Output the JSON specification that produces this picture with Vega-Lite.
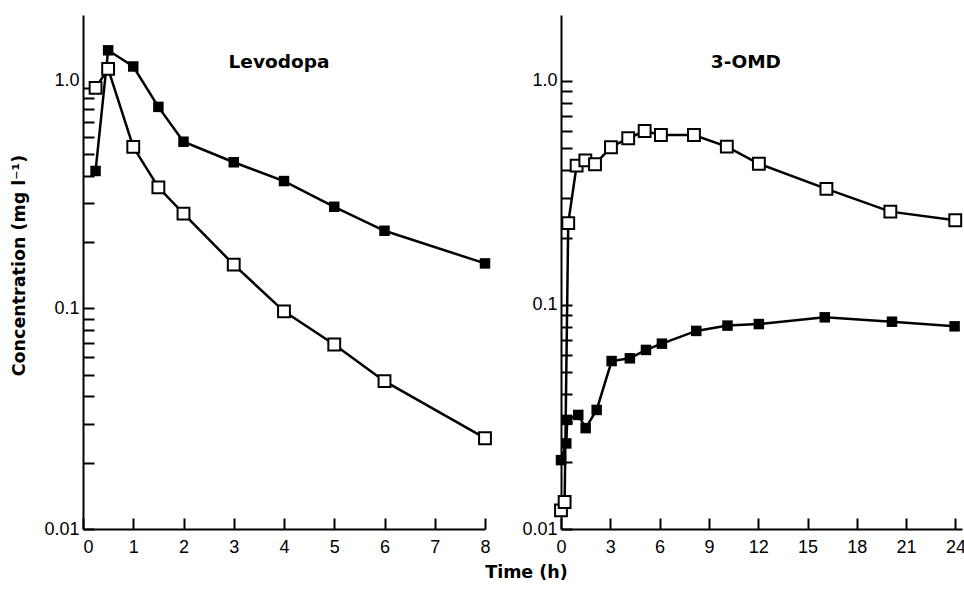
{
  "$schema": "https://vega.github.io/schema/vega-lite/v6.json",
  "background": "white",
  "padding": {"left": 10, "top": 15, "right": 0, "bottom": 0},
  "spacing": 76,
  "bounds": "flush",
  "config": {
    "view": {"stroke": null},
    "axis": {
      "grid": false,
      "domainColor": "black",
      "domainWidth": 2,
      "tickColor": "black",
      "tickWidth": 2,
      "labelColor": "black",
      "labelFont": "Liberation Sans",
      "labelFontSize": 18,
      "labelOverlap": false,
      "labelBound": false,
      "titleColor": "black"
    }
  },
  "datasets": {
    "levo": [
      {"t": 0.25, "c": 0.42, "series": "filled"},
      {"t": 0.5, "c": 1.48, "series": "filled"},
      {"t": 1, "c": 1.25, "series": "filled"},
      {"t": 1.5, "c": 0.82, "series": "filled"},
      {"t": 2, "c": 0.57, "series": "filled"},
      {"t": 3, "c": 0.46, "series": "filled"},
      {"t": 4, "c": 0.378, "series": "filled"},
      {"t": 5, "c": 0.289, "series": "filled"},
      {"t": 6, "c": 0.225, "series": "filled"},
      {"t": 8, "c": 0.16, "series": "filled"},
      {"t": 0.25, "c": 1.0, "series": "open"},
      {"t": 0.5, "c": 1.22, "series": "open"},
      {"t": 1, "c": 0.54, "series": "open"},
      {"t": 1.5, "c": 0.354, "series": "open"},
      {"t": 2, "c": 0.269, "series": "open"},
      {"t": 3, "c": 0.158, "series": "open"},
      {"t": 4, "c": 0.097, "series": "open"},
      {"t": 5, "c": 0.0686, "series": "open"},
      {"t": 6, "c": 0.0468, "series": "open"},
      {"t": 8, "c": 0.0258, "series": "open"}
    ],
    "omd": [
      {"t": 0, "c": 0.0203, "series": "filled"},
      {"t": 0.32, "c": 0.0241, "series": "filled"},
      {"t": 0.38, "c": 0.0307, "series": "filled"},
      {"t": 1.05, "c": 0.0323, "series": "filled"},
      {"t": 1.5, "c": 0.0282, "series": "filled"},
      {"t": 2.17, "c": 0.034, "series": "filled"},
      {"t": 3.08, "c": 0.0562, "series": "filled"},
      {"t": 4.19, "c": 0.0578, "series": "filled"},
      {"t": 5.17, "c": 0.063, "series": "filled"},
      {"t": 6.14, "c": 0.0672, "series": "filled"},
      {"t": 8.23, "c": 0.0766, "series": "filled"},
      {"t": 10.13, "c": 0.0809, "series": "filled"},
      {"t": 12.04, "c": 0.0822, "series": "filled"},
      {"t": 16.05, "c": 0.0881, "series": "filled"},
      {"t": 20.14, "c": 0.0842, "series": "filled"},
      {"t": 23.95, "c": 0.0803, "series": "filled"},
      {"t": 0, "c": 0.0121, "series": "open"},
      {"t": 0.22, "c": 0.0132, "series": "open"},
      {"t": 0.44, "c": 0.232, "series": "open"},
      {"t": 0.95, "c": 0.419, "series": "open"},
      {"t": 1.48, "c": 0.442, "series": "open"},
      {"t": 2.07, "c": 0.425, "series": "open"},
      {"t": 3.04, "c": 0.506, "series": "open"},
      {"t": 4.09, "c": 0.555, "series": "open"},
      {"t": 5.09, "c": 0.598, "series": "open"},
      {"t": 6.08, "c": 0.574, "series": "open"},
      {"t": 8.09, "c": 0.574, "series": "open"},
      {"t": 10.09, "c": 0.509, "series": "open"},
      {"t": 12.04, "c": 0.427, "series": "open"},
      {"t": 16.15, "c": 0.33, "series": "open"},
      {"t": 20.04, "c": 0.261, "series": "open"},
      {"t": 23.99, "c": 0.239, "series": "open"}
    ]
  },
  "hconcat": [
    {
      "width": 402,
      "height": 514,
      "layer": [
        {
          "data": {"name": "levo"},
          "mark": {"type": "line", "color": "black", "strokeWidth": 2.5},
          "encoding": {
            "x": {
              "field": "t", "type": "quantitative",
              "scale": {"domain": [0, 8], "nice": false, "zero": false},
              "axis": {
                "values": [0, 1, 2, 3, 4, 5, 6, 7, 8],
                "format": "d",
                "tickSize": -11,
                "labelPadding": 20,
                "labelFlush": false,
                "labelOffset": {"condition": {"test": "datum.value == 0", "value": 5}, "value": 0},
                "title": "Time (h)",
                "titleFont": "DejaVu Sans",
                "titleFontWeight": "bold",
                "titleFontSize": 17.5,
                "titleX": 443,
                "titleY": 48,
                "titleAlign": "center",
                "titleBaseline": "alphabetic"
              }
            },
            "y": {
              "field": "c", "type": "quantitative",
              "scale": {"type": "log", "domain": [0.01, 2.14], "nice": false},
              "axis": {
                "values": [0.01, 0.02, 0.03, 0.04, 0.05, 0.06, 0.07, 0.08, 0.09, 0.1, 0.2, 0.3, 0.4, 0.5, 0.6, 0.7, 0.8, 0.9, 1],
                "labelExpr": "datum.value == 0.01 ? '0.01' : datum.value == 0.1 ? '0.1' : datum.value == 1 ? '1.0' : ''",
                "tickSize": -11,
                "labelPadding": 15,
                "labelOffset": {"condition": {"test": "datum.value == 1", "value": -7}, "value": 0},
                "title": "Concentration (mg l⁻¹)",
                "titleFont": "DejaVu Sans",
                "titleFontWeight": "bold",
                "titleFontSize": 17.5,
                "titleAngle": -90,
                "titleX": -64,
                "titleY": 250,
                "titleAlign": "center",
                "titleBaseline": "middle"
              }
            },
            "detail": {"field": "series"}
          }
        },
        {
          "data": {"name": "levo"},
          "transform": [{"filter": "datum.series == 'filled'"}],
          "mark": {"type": "point", "shape": "square", "filled": true, "color": "black", "size": 110, "opacity": 1},
          "encoding": {
            "x": {"field": "t", "type": "quantitative"},
            "y": {"field": "c", "type": "quantitative"}
          }
        },
        {
          "data": {"name": "levo"},
          "transform": [{"filter": "datum.series == 'open'"}],
          "mark": {"type": "point", "shape": "square", "filled": true, "fill": "white", "stroke": "black", "strokeWidth": 2, "size": 140, "opacity": 1},
          "encoding": {
            "x": {"field": "t", "type": "quantitative"},
            "y": {"field": "c", "type": "quantitative"}
          }
        },
        {
          "data": {"values": [{"t": 3.9, "c": 1.31, "label": "Levodopa"}]},
          "mark": {"type": "text", "font": "DejaVu Sans", "fontWeight": "bold", "fontSize": 18.5, "color": "black", "baseline": "middle", "align": "center"},
          "encoding": {
            "x": {"field": "t", "type": "quantitative"},
            "y": {"field": "c", "type": "quantitative"},
            "text": {"field": "label"}
          }
        }
      ]
    },
    {
      "width": 401,
      "height": 514,
      "layer": [
        {
          "data": {"name": "omd"},
          "mark": {"type": "line", "color": "black", "strokeWidth": 2.5},
          "encoding": {
            "x": {
              "field": "t", "type": "quantitative",
              "scale": {"domain": [0, 24.4], "nice": false, "zero": false},
              "axis": {
                "values": [0, 3, 6, 9, 12, 15, 18, 21, 24],
                "format": "d",
                "tickSize": -11,
                "labelPadding": 20,
                "labelFlush": false,
                "title": null
              }
            },
            "y": {
              "field": "c", "type": "quantitative",
              "scale": {"type": "log", "domain": [0.01, 1.97], "nice": false},
              "axis": {
                "values": [0.01, 0.02, 0.03, 0.04, 0.05, 0.06, 0.07, 0.08, 0.09, 0.1, 0.2, 0.3, 0.4, 0.5, 0.6, 0.7, 0.8, 0.9, 1],
                "labelExpr": "datum.value == 0.01 ? '0.01' : datum.value == 0.1 ? '0.1' : datum.value == 1 ? '1.0' : ''",
                "tickSize": -11,
                "labelPadding": 15,
                "title": null
              }
            },
            "detail": {"field": "series"}
          }
        },
        {
          "data": {"name": "omd"},
          "transform": [{"filter": "datum.series == 'filled'"}],
          "mark": {"type": "point", "shape": "square", "filled": true, "color": "black", "size": 110, "opacity": 1},
          "encoding": {
            "x": {"field": "t", "type": "quantitative"},
            "y": {"field": "c", "type": "quantitative"}
          }
        },
        {
          "data": {"name": "omd"},
          "transform": [{"filter": "datum.series == 'open'"}],
          "mark": {"type": "point", "shape": "square", "filled": true, "fill": "white", "stroke": "black", "strokeWidth": 2, "size": 140, "opacity": 1},
          "encoding": {
            "x": {"field": "t", "type": "quantitative"},
            "y": {"field": "c", "type": "quantitative"}
          }
        },
        {
          "data": {"values": [{"t": 11.25, "c": 1.22, "label": "3-OMD"}]},
          "mark": {"type": "text", "font": "DejaVu Sans", "fontWeight": "bold", "fontSize": 18.5, "color": "black", "baseline": "middle", "align": "center"},
          "encoding": {
            "x": {"field": "t", "type": "quantitative"},
            "y": {"field": "c", "type": "quantitative"},
            "text": {"field": "label"}
          }
        }
      ]
    }
  ]
}
